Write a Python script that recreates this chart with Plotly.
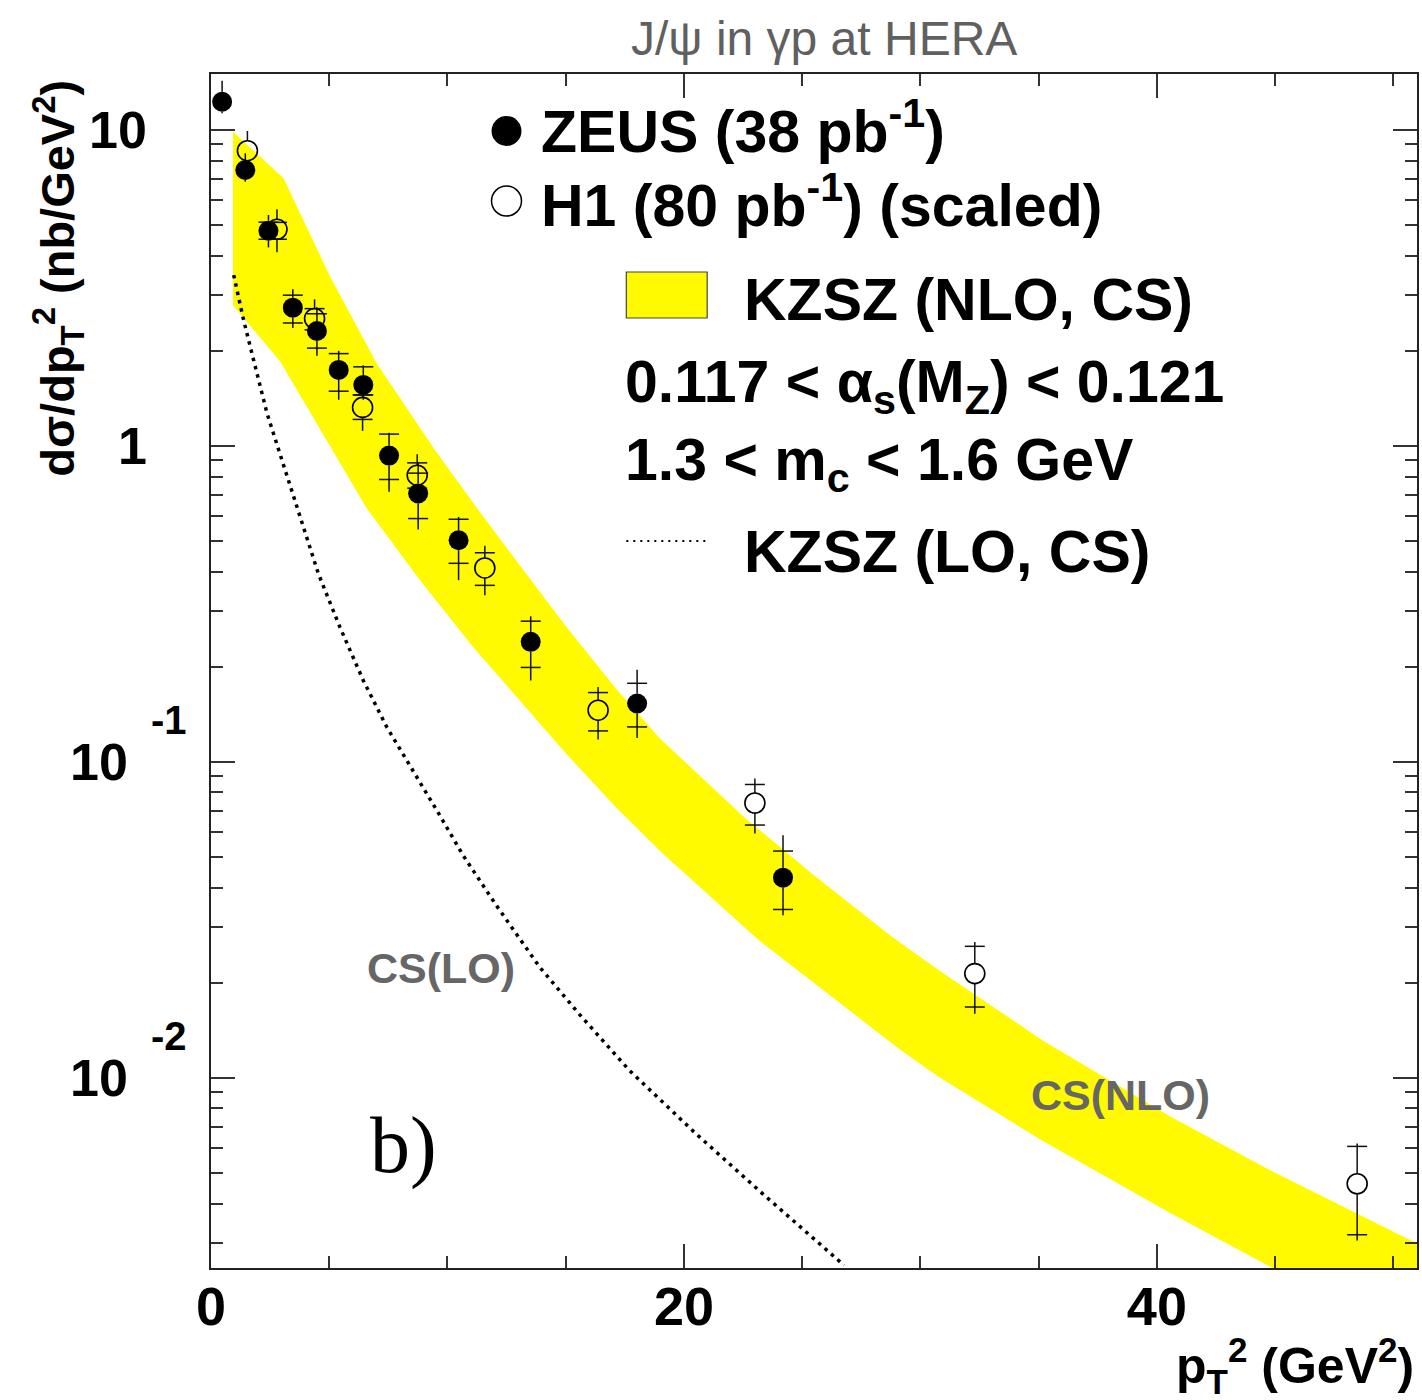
import numpy as np
import plotly.graph_objects as go

# ---------------- data ----------------
zeus_x = [0.47, 1.45, 2.43, 3.46, 4.48, 5.40, 6.44, 7.53, 8.76, 10.47, 13.52, 18.02, 24.19]
zeus_y = [12.29, 7.47, 4.80, 2.74, 2.31, 1.74, 1.56, 0.932, 0.707, 0.503, 0.2398, 0.153, 0.0430]
zeus_stat_hi = [None, None, 5.11, 3.00, 2.62, 1.96, 1.78, 1.09, 0.820, 0.586, 0.2788, 0.1773, 0.0522]
zeus_stat_lo = [None, None, 4.51, 2.45, 2.04, 1.49, 1.45, 0.783, 0.589, 0.425, 0.199, 0.129, 0.0341]
zeus_tot_hi = [14.32, 8.44, 5.38, 3.13, 2.75, 2.00, 1.80, 1.10, 0.889, 0.596, 0.289, 0.1957, 0.0586]
zeus_tot_lo = [11.29, 6.86, 4.25, 2.36, 1.93, 1.40, 1.40, 0.716, 0.544, 0.376, 0.181, 0.119, 0.0327]

h1_x = [1.54, 2.79, 4.38, 6.41, 8.72, 11.58, 16.37, 23.00, 32.30, 48.47]
h1_y = [8.60, 4.85, 2.53, 1.324, 0.808, 0.411, 0.1457, 0.0741, 0.02137, 0.00462]
h1_stat_hi = [None, 5.10, 2.72, 1.45, 0.884, 0.459, 0.1657, 0.0848, 0.02607, 0.006065]
h1_stat_lo = [None, 4.51, 2.33, 1.213, 0.735, 0.362, 0.1253, 0.0631, 0.01675, 0.003186]
h1_tot_hi = [9.93, 5.61, 2.91, 1.50, 0.942, 0.483, 0.1726, 0.0886, 0.0269, 0.00619]
h1_tot_lo = [7.75, 4.10, 2.20, 1.116, 0.70, 0.337, 0.1177, 0.0593, 0.01596, 0.003056]

band_x_upper = [0.93, 3.07, 5.04, 7.01, 9.47, 11.23, 13.05, 15.03, 17.14, 18.96, 22.62, 25.43,
                28.81, 30.78, 35.14, 40.62, 44.98, 51.0]
band_hi = [9.88, 7.03, 3.43, 1.825, 0.970, 0.638, 0.420, 0.267, 0.170, 0.119, 0.0661, 0.0442,
           0.0279, 0.0219, 0.01318, 0.0075, 0.00501, 0.00299]
band_x_lower = [0.93, 2.93, 4.97, 6.59, 8.84, 11.08, 13.05, 15.03, 17.14, 19.10, 23.18, 29.09,
                30.78, 35.14, 40.62, 44.84, 51.0]
band_lo = [2.79, 1.846, 1.018, 0.634, 0.376, 0.231, 0.1562, 0.1059, 0.0716, 0.0513, 0.0272, 0.01236,
           0.01005, 0.00633, 0.00371, 0.00252, 0.00142]

lo_x = [0.96, 1.38, 1.80, 2.37, 3.00, 3.77, 4.54, 5.46, 6.44, 7.43, 8.55, 9.68, 10.66, 12.07,
        13.90, 15.59, 17.70, 20.51, 23.32, 26.77]
lo_y = [3.475, 2.50, 1.871, 1.268, 0.902, 0.596, 0.394, 0.266, 0.181, 0.129, 0.0940, 0.0676,
        0.0506, 0.0351, 0.0224, 0.01585, 0.01054, 0.00665, 0.00430, 0.00255]

x_tick_vals = [0, 20, 40]
y_decades = [0.01, 0.1, 1, 10]
y_tick_main = ["10", "10", "1", "10"]
y_tick_exp = ["-2", "-1", "", ""]

# ---------------- geometry ----------------
W, H = 1422, 1400
PL, PR, PT, PB = 211, 1419, 74, 1268
XR = [0, 51]
YR = [np.log10(0.0025), np.log10(15.04)]
plot_w, plot_h = PR - PL, PB - PT


def pxx(px):
    return (px - PL) / plot_w


def pxy(py):
    return (PB - py) / plot_h


MARKER = 20
gap_dec = (MARKER / 2) / (plot_h / (YR[1] - YR[0]))
half_w = 10 * (XR[1] - XR[0]) / plot_w


def error_segments(xs, ys, slo, shi, tlo, thi):
    sx, sy = [], []
    f = 10 ** gap_dec
    for x, y, a, b, c, d in zip(xs, ys, slo, shi, tlo, thi):
        if d > y * f:
            sx += [x, x, None]
            sy += [y * f, d, None]
        if c < y / f:
            sx += [x, x, None]
            sy += [y / f, c, None]
        for s in (a, b):
            if s is not None:
                sx += [x - half_w, x + half_w, None]
                sy += [s, s, None]
    return sx, sy


fig = go.Figure()

# NLO band
fig.add_trace(go.Scatter(
    x=band_x_upper + band_x_lower[::-1], y=band_hi + band_lo[::-1],
    fill="toself", fillcolor="#FFFA00", line=dict(width=0), mode="lines",
    hoverinfo="skip", showlegend=False))

# LO dotted curve
fig.add_trace(go.Scatter(
    x=lo_x, y=lo_y, mode="lines", line=dict(color="black", width=3.5, dash="3.5px,5px"),
    hoverinfo="skip", showlegend=False))

# error bars
for args in [(zeus_x, zeus_y, zeus_stat_lo, zeus_stat_hi, zeus_tot_lo, zeus_tot_hi),
             (h1_x, h1_y, h1_stat_lo, h1_stat_hi, h1_tot_lo, h1_tot_hi)]:
    ex, ey = error_segments(*args)
    fig.add_trace(go.Scatter(x=ex, y=ey, mode="lines", line=dict(color="#111", width=1.5),
                             hoverinfo="skip", showlegend=False, connectgaps=False))

fig.add_trace(go.Scatter(x=zeus_x, y=zeus_y, mode="markers", name="ZEUS",
                         marker=dict(symbol="circle", size=MARKER, color="black", line=dict(width=0)),
                         showlegend=False))
fig.add_trace(go.Scatter(x=h1_x, y=h1_y, mode="markers", name="H1",
                         marker=dict(symbol="circle-open", size=MARKER, color="black",
                                     line=dict(width=1.6, color="black")),
                         showlegend=False))

minor_y = [d * k for d in [0.001] + y_decades for k in range(2, 10)]

fig.update_layout(
    width=W, height=H,
    margin=dict(l=PL, r=W - PR, t=PT, b=H - PB, pad=0),
    paper_bgcolor="white", plot_bgcolor="white",
    xaxis=dict(range=XR, tickmode="array", tickvals=x_tick_vals,
               ticks="inside", ticklen=24, tickwidth=1.5, tickcolor="#333",
               minor=dict(dtick=5, tick0=0, ticks="inside", ticklen=12, tickwidth=1.5, tickcolor="#333"),
               showline=True, linewidth=2, linecolor="#222", mirror="ticks",
               showgrid=False, zeroline=False,
               tickfont=dict(family="Liberation Sans, Arial, sans-serif", size=54, color="black", weight="bold"),
               ticklabelstandoff=-10),
    yaxis=dict(type="log", range=YR, tickmode="array", tickvals=y_decades,
               ticks="inside", ticklen=24, tickwidth=1.5, tickcolor="#333",
               minor=dict(tickmode="array", tickvals=minor_y, ticks="inside", ticklen=12,
                          tickwidth=1.5, tickcolor="#333"),
               showline=True, linewidth=2, linecolor="#222", mirror="ticks",
               showgrid=False, zeroline=False, showticklabels=False),
)

bold = dict(family="Liberation Sans, Arial, sans-serif", color="black", weight="bold")
ann = []
# y tick labels
for v, m, e in zip(y_decades, y_tick_main, y_tick_exp):
    if e:
        ann.append(dict(x=pxx(130), y=np.log10(v), xref="paper", yref="y", text=m, showarrow=False,
                        xanchor="right", yanchor="middle", font=dict(size=52, **bold)))
        ann.append(dict(x=pxx(149), y=np.log10(v), xref="paper", yref="y", text=e, showarrow=False,
                        xanchor="left", yanchor="middle", yshift=42, font=dict(size=40, **bold)))
    else:
        ann.append(dict(x=pxx(149), y=np.log10(v), xref="paper", yref="y", text=m, showarrow=False,
                        xanchor="right", yanchor="middle", font=dict(size=52, **bold)))

narrow = "Liberation Sans Narrow, Arial Narrow, Liberation Sans, Arial, sans-serif"
# axis titles
ann.append(dict(x=pxx(58), y=pxy(78), xref="paper", yref="paper", textangle=-90,
                text="dσ/dp<sub>T</sub><sup>2</sup> (nb/GeV<sup>2</sup>)", showarrow=False,
                xanchor="center", yanchor="top",
                font=dict(family=narrow, size=47, color="black", weight="bold")))
ann.append(dict(x=pxx(1418), y=pxy(1365), xref="paper", yref="paper",
                text="p<sub>T</sub><sup>2</sup> (GeV<sup>2</sup>)", showarrow=False,
                xanchor="right", yanchor="middle", font=dict(size=50, **bold)))
# title
ann.append(dict(x=pxx(825), y=pxy(38), xref="paper", yref="paper", text="J/ψ in γp at HERA",
                showarrow=False, xanchor="center", yanchor="middle",
                font=dict(family=narrow, size=48, color="#606060")))
# legend texts
LEG = 59
ann.append(dict(x=pxx(540), y=pxy(128), xref="paper", yref="paper",
                text="ZEUS (38 pb<sup>-1</sup>)", showarrow=False, xanchor="left", yanchor="middle",
                font=dict(size=LEG, **bold)))
ann.append(dict(x=pxx(540), y=pxy(202), xref="paper", yref="paper",
                text="H1 (80 pb<sup>-1</sup>) (scaled)", showarrow=False, xanchor="left", yanchor="middle",
                font=dict(size=LEG, **bold)))
ann.append(dict(x=pxx(743), y=pxy(300), xref="paper", yref="paper",
                text="KZSZ (NLO, CS)", showarrow=False, xanchor="left", yanchor="middle",
                font=dict(size=LEG, **bold)))
ann.append(dict(x=pxx(624), y=pxy(386), xref="paper", yref="paper",
                text="0.117 < α<sub>s</sub>(M<sub>Z</sub>) < 0.121", showarrow=False,
                xanchor="left", yanchor="middle", font=dict(size=LEG, **bold)))
ann.append(dict(x=pxx(624), y=pxy(464), xref="paper", yref="paper",
                text="1.3 < m<sub>c</sub> < 1.6 GeV", showarrow=False,
                xanchor="left", yanchor="middle", font=dict(size=LEG, **bold)))
ann.append(dict(x=pxx(743), y=pxy(552), xref="paper", yref="paper",
                text="KZSZ (LO, CS)", showarrow=False, xanchor="left", yanchor="middle",
                font=dict(size=LEG, **bold)))
# curve labels
gray_lab = dict(family=narrow, size=43, color="#666666", weight="bold")
ann.append(dict(x=pxx(441), y=pxy(968), xref="paper", yref="paper", text="CS(LO)",
                showarrow=False, xanchor="center", yanchor="middle", font=gray_lab))
ann.append(dict(x=pxx(1122), y=pxy(1095), xref="paper", yref="paper", text="CS(NLO)",
                showarrow=False, xanchor="center", yanchor="middle", font=gray_lab))
ann.append(dict(x=pxx(404), y=pxy(1145), xref="paper", yref="paper", text="b)",
                showarrow=False, xanchor="center", yanchor="middle",
                font=dict(family="Liberation Serif, Times New Roman, serif", size=80, color="black")))

shapes = [
    dict(type="circle", xref="paper", yref="paper", x0=pxx(492), x1=pxx(522), y0=pxy(116), y1=pxy(146),
         fillcolor="black", line=dict(width=0)),
    dict(type="circle", xref="paper", yref="paper", x0=pxx(492), x1=pxx(522), y0=pxy(186), y1=pxy(216),
         fillcolor="rgba(0,0,0,0)", line=dict(width=1.5, color="black")),
    dict(type="rect", xref="paper", yref="paper", x0=pxx(627), x1=pxx(708), y0=pxy(272), y1=pxy(318),
         fillcolor="#FFFA00", line=dict(width=1.2, color="#444")),
    dict(type="line", xref="paper", yref="paper", x0=pxx(627), x1=pxx(708), y0=pxy(541), y1=pxy(541),
         line=dict(width=2, color="black", dash="2px,5px")),
]

fig.update_layout(annotations=ann, shapes=shapes)
fig.write_html("out.html")
